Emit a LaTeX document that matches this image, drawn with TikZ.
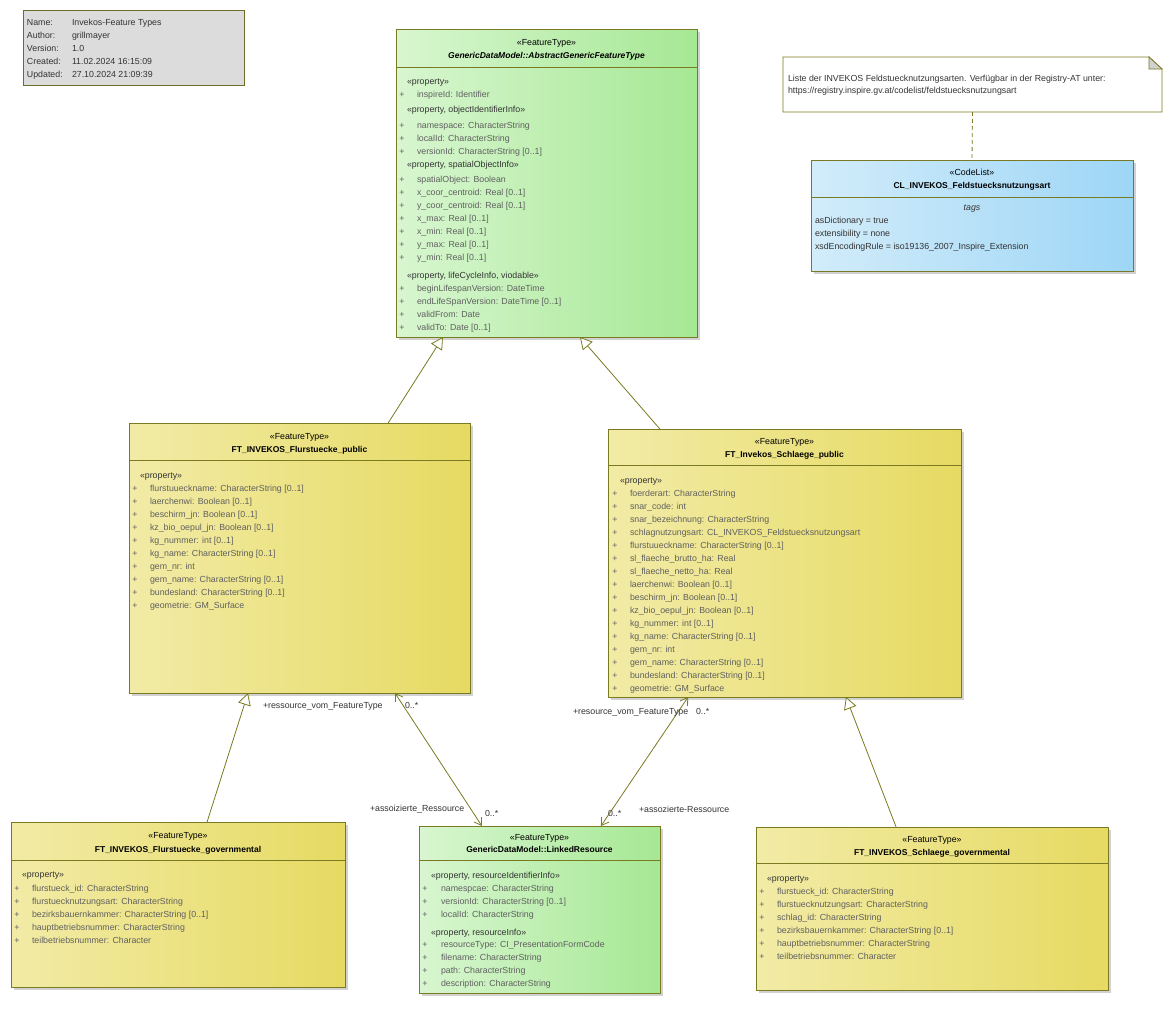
\documentclass[tikz,border=0pt]{standalone}
\usepackage{fontspec}
\setmainfont{Liberation Sans}
\usetikzlibrary{calc,arrows.meta,shadows}
\definecolor{bord}{HTML}{7A7A22}
\definecolor{yL}{HTML}{F2EBA6}
\definecolor{yR}{HTML}{E6DA62}
\definecolor{gL}{HTML}{D8F6D0}
\definecolor{gR}{HTML}{A6E894}
\definecolor{bL}{HTML}{D2ECFA}
\definecolor{bR}{HTML}{9ED6F6}
\definecolor{infoF}{HTML}{DCDCDC}
\definecolor{infoB}{HTML}{6E6E2A}
\definecolor{attrC}{HTML}{606060}
\definecolor{stC}{HTML}{333333}
\newcommand\attrs[5]{\foreach \itm [count=\i] in {#5}{%
  \node[plus] (#1p\i) at (#2,{#4+13*(\i-1)}) {+};
  \node[attr] (#1a\i) at (#3,{#4+13*(\i-1)}) {\itm};}}
\begin{document}
\begin{tikzpicture}[x=1pt,y=-1pt,
  every node/.style={inner sep=0pt, outer sep=0pt, font=\fontsize{8.8}{10}\selectfont},
  cls/.style={draw=bord, line width=0.8pt, anchor=north west,
    drop shadow={shadow xshift=3pt,shadow yshift=-3pt,opacity=0.18,fill=black}},
  yel/.style={left color=yL, right color=yR},
  grn/.style={left color=gL, right color=gR},
  blu/.style={left color=bL, right color=bR},
  sep/.style={draw=bord, line width=0.8pt},
  ster/.style={anchor=base, text=black},
  cname/.style={anchor=base, text=black, font=\fontsize{8.5}{10}\selectfont\bfseries},
  grp/.style={anchor=base west, text=stC},
  attr/.style={anchor=base west, text=attrC},
  plus/.style={anchor=base, text=attrC},
  lbl/.style={anchor=base west, text=stC},
  gen/.style={draw=bord, line width=0.8pt, -{Triangle[open,length=12pt,width=13pt,fill=white]}},
  asc/.style={draw=bord, line width=0.8pt, {Straight Barb[length=7pt,width=9pt]}-{Straight Barb[length=7pt,width=9pt]}},
]
\useasboundingbox[fill=white] (0,0) rectangle (1171,1023);

% ---------- info box
\node[draw=infoB, fill=infoF, line width=0.8pt, anchor=north west, minimum width=221pt, minimum height=75pt] (info) at (23,10) {};
\node[lbl] (i1) at (27,25) {Name:};     \node[lbl] (v1) at (72,25) {Invekos-Feature Types};
\node[lbl] (i2) at (27,38) {Author:};   \node[lbl] (v2) at (72,38) {grillmayer};
\node[lbl] (i3) at (27,51) {Version:};  \node[lbl] (v3) at (72,51) {1.0};
\node[lbl] (i4) at (27,64) {Created:};  \node[lbl] (v4) at (72,64) {11.02.2024 16:15:09};
\node[lbl] (i5) at (27,77) {Updated:};  \node[lbl] (v5) at (72,77) {27.10.2024 21:09:39};

% ---------- abstract feature type
\node[cls,grn,minimum width=301pt,minimum height=308pt] (abs) at (396,29) {};
\draw[sep] ($(abs.north west)+(0,38)$) -- ($(abs.north east)+(0,38)$);
\node[ster] (absS) at (546.5,45) {«FeatureType»};
\node[cname,font=\fontsize{8.5}{10}\selectfont\bfseries\itshape] (absN) at (546.5,58) {GenericDataModel::AbstractGenericFeatureType};
\node[grp] (absG1) at (407,84) {«property»};
\attrs{absA}{402}{417}{97}{inspireId: Identifier}
\node[grp] (absG2) at (407,112) {«property, objectIdentifierInfo»};
\attrs{absB}{402}{417}{128}{namespace: CharacterString, localId: CharacterString, {versionId: CharacterString [0..1]}}
\node[grp] (absG3) at (407,167) {«property, spatialObjectInfo»};
\attrs{absC}{402}{417}{182}{spatialObject: Boolean, {x\_coor\_centroid: Real [0..1]}, {y\_coor\_centroid: Real [0..1]}, {x\_max: Real [0..1]}, {x\_min: Real [0..1]}, {y\_max: Real [0..1]}, {y\_min: Real [0..1]}}
\node[grp] (absG4) at (407,278) {«property, lifeCycleInfo, viodable»};
\attrs{absD}{402}{417}{291}{beginLifespanVersion: DateTime, {endLifeSpanVersion: DateTime [0..1]}, validFrom: Date, {validTo: Date [0..1]}}

% ---------- note + codelist
\node[anchor=north west, minimum width=379pt, minimum height=55pt] (note) at (783,57) {};
\draw[bord, line width=0.8pt, fill=white] (note.north west) -- ($(note.north east)+(-13,0)$) -- ($(note.north east)+(0,12)$) -- (note.south east) -- (note.south west) -- cycle;
\draw[bord, line width=0.8pt, fill=black!18] ($(note.north east)+(-13,0)$) -- ($(note.north east)+(-13,12)$) -- ($(note.north east)+(0,12)$) -- cycle;
\node[lbl] (n1) at (788,81) {Liste der INVEKOS Feldstuecknutzungsarten. Verfügbar in der Registry-AT unter:};
\node[lbl] (n2) at (788,93) {https://registry.inspire.gv.at/codelist/feldstuecksnutzungsart};

\node[cls,blu,minimum width=322pt,minimum height=111pt] (cl) at (811,160) {};
\draw[sep] ($(cl.north west)+(0,37)$) -- ($(cl.north east)+(0,37)$);
\node[ster] (clS) at (972,175) {«CodeList»};
\node[cname] (clN) at (972,188) {CL\_INVEKOS\_Feldstuecksnutzungsart};
\node[ster,text=stC,font=\fontsize{8.8}{10}\selectfont\itshape] (clT) at (972,210) {tags};
\node[lbl] (clV1) at (815,223) {asDictionary = true};
\node[lbl] (clV2) at (815,236) {extensibility = none};
\node[lbl] (clV3) at (815,249) {xsdEncodingRule = iso19136\_2007\_Inspire\_Extension};
\draw[bord, line width=0.8pt, dash pattern=on 4pt off 3pt] (note.south) -- (cl.north);

% ---------- FT_INVEKOS_Flurstuecke_public
\node[cls,yel,minimum width=341pt,minimum height=270pt] (flp) at (129,423) {};
\draw[sep] ($(flp.north west)+(0,37)$) -- ($(flp.north east)+(0,37)$);
\node[ster] (flpS) at (299.5,439) {«FeatureType»};
\node[cname] (flpN) at (299.5,452) {FT\_INVEKOS\_Flurstuecke\_public};
\node[grp] (flpG) at (140,478) {«property»};
\attrs{flpA}{135}{150}{491}{{flurstuueckname: CharacterString [0..1]}, {laerchenwi: Boolean [0..1]}, {beschirm\_jn: Boolean [0..1]}, {kz\_bio\_oepul\_jn: Boolean [0..1]}, {kg\_nummer: int [0..1]}, {kg\_name: CharacterString [0..1]}, gem\_nr: int, {gem\_name: CharacterString [0..1]}, {bundesland: CharacterString [0..1]}, geometrie: GM\_Surface}

% ---------- FT_Invekos_Schlaege_public
\node[cls,yel,minimum width=353pt,minimum height=268pt] (slp) at (608,429) {};
\draw[sep] ($(slp.north west)+(0,36)$) -- ($(slp.north east)+(0,36)$);
\node[ster] (slpS) at (784.5,444) {«FeatureType»};
\node[cname] (slpN) at (784.5,457) {FT\_Invekos\_Schlaege\_public};
\node[grp] (slpG) at (620,483) {«property»};
\attrs{slpA}{615}{630}{496}{foerderart: CharacterString, snar\_code: int, snar\_bezeichnung: CharacterString, schlagnutzungsart: CL\_INVEKOS\_Feldstuecksnutzungsart, {flurstuueckname: CharacterString [0..1]}, sl\_flaeche\_brutto\_ha: Real, sl\_flaeche\_netto\_ha: Real, {laerchenwi: Boolean [0..1]}, {beschirm\_jn: Boolean [0..1]}, {kz\_bio\_oepul\_jn: Boolean [0..1]}, {kg\_nummer: int [0..1]}, {kg\_name: CharacterString [0..1]}, gem\_nr: int, {gem\_name: CharacterString [0..1]}, {bundesland: CharacterString [0..1]}, geometrie: GM\_Surface}

% ---------- FT_INVEKOS_Flurstuecke_governmental
\node[cls,yel,minimum width=334pt,minimum height=165pt] (flg) at (11,822) {};
\draw[sep] ($(flg.north west)+(0,38)$) -- ($(flg.north east)+(0,38)$);
\node[ster] (flgS) at (178,838) {«FeatureType»};
\node[cname] (flgN) at (178,852) {FT\_INVEKOS\_Flurstuecke\_governmental};
\node[grp] (flgG) at (22,877) {«property»};
\attrs{flgA}{17}{32}{891}{flurstueck\_id: CharacterString, flurstuecknutzungsart: CharacterString, {bezirksbauernkammer: CharacterString [0..1]}, hauptbetriebsnummer: CharacterString, teilbetriebsnummer: Character}

% ---------- LinkedResource
\node[cls,grn,minimum width=241pt,minimum height=167pt] (lr) at (419,826) {};
\draw[sep] ($(lr.north west)+(0,34)$) -- ($(lr.north east)+(0,34)$);
\node[ster] (lrS) at (539.5,840) {«FeatureType»};
\node[cname] (lrN) at (539.5,852) {GenericDataModel::LinkedResource};
\node[grp] (lrG1) at (431,878) {«property, resourceIdentifierInfo»};
\attrs{lrA}{425}{441}{891}{namespcae: CharacterString, {versionId: CharacterString [0..1]}, localId: CharacterString}
\node[grp] (lrG2) at (431,935) {«property, resourceInfo»};
\attrs{lrB}{425}{441}{947}{resourceType: CI\_PresentationFormCode, filename: CharacterString, path: CharacterString, description: CharacterString}

% ---------- FT_INVEKOS_Schlaege_governmental
\node[cls,yel,minimum width=352pt,minimum height=163pt] (slg) at (756,827) {};
\draw[sep] ($(slg.north west)+(0,36)$) -- ($(slg.north east)+(0,36)$);
\node[ster] (slgS) at (932,842) {«FeatureType»};
\node[cname] (slgN) at (932,855) {FT\_INVEKOS\_Schlaege\_governmental};
\node[grp] (slgG) at (767,881) {«property»};
\attrs{slgA}{762}{777}{894}{flurstueck\_id: CharacterString, flurstuecknutzungsart: CharacterString, schlag\_id: CharacterString, {bezirksbauernkammer: CharacterString [0..1]}, hauptbetriebsnummer: CharacterString, teilbetriebsnummer: Character}

% ---------- connectors
\coordinate (g1s) at ($(flp.north west)!0.760!(flp.north east)$);
\coordinate (g1t) at ($(abs.south west)!0.156!(abs.south east)$);
\coordinate (g2s) at ($(slp.north west)!0.147!(slp.north east)$);
\coordinate (g2t) at ($(abs.south west)!0.611!(abs.south east)$);
\coordinate (g3s) at ($(flg.north west)!0.587!(flg.north east)$);
\coordinate (g3t) at ($(flp.south west)!0.349!(flp.south east)$);
\coordinate (g4s) at ($(slg.north west)!0.398!(slg.north east)$);
\coordinate (g4t) at ($(slp.south west)!0.674!(slp.south east)$);
\coordinate (a1s) at ($(flp.south west)!0.780!(flp.south east)$);
\coordinate (a1t) at ($(lr.north west)!0.261!(lr.north east)$);
\coordinate (a2s) at ($(slp.south west)!0.227!(slp.south east)$);
\coordinate (a2t) at ($(lr.north west)!0.755!(lr.north east)$);
\draw[gen] (g1s) -- (g1t);
\draw[gen] (g2s) -- (g2t);
\draw[gen] (g3s) -- (g3t);
\draw[gen] (g4s) -- (g4t);
\draw[asc] (a1s) -- (a1t);
\draw[asc] (a2s) -- (a2t);

\node[lbl] (l1) at (263,708) {+ressource\_vom\_FeatureType};
\node[lbl] (l2) at (405,708) {0..*};
\node[lbl] (l3) at (573,714) {+resource\_vom\_FeatureType};
\node[lbl] (l4) at (696,714) {0..*};
\node[lbl] (l5) at (370,811) {+assoizierte\_Ressource};
\node[lbl] (l6) at (485,816) {0..*};
\node[lbl] (l7) at (608,816) {0..*};
\node[lbl] (l8) at (639,812) {+assozierte-Ressource};
\end{tikzpicture}
\end{document}
